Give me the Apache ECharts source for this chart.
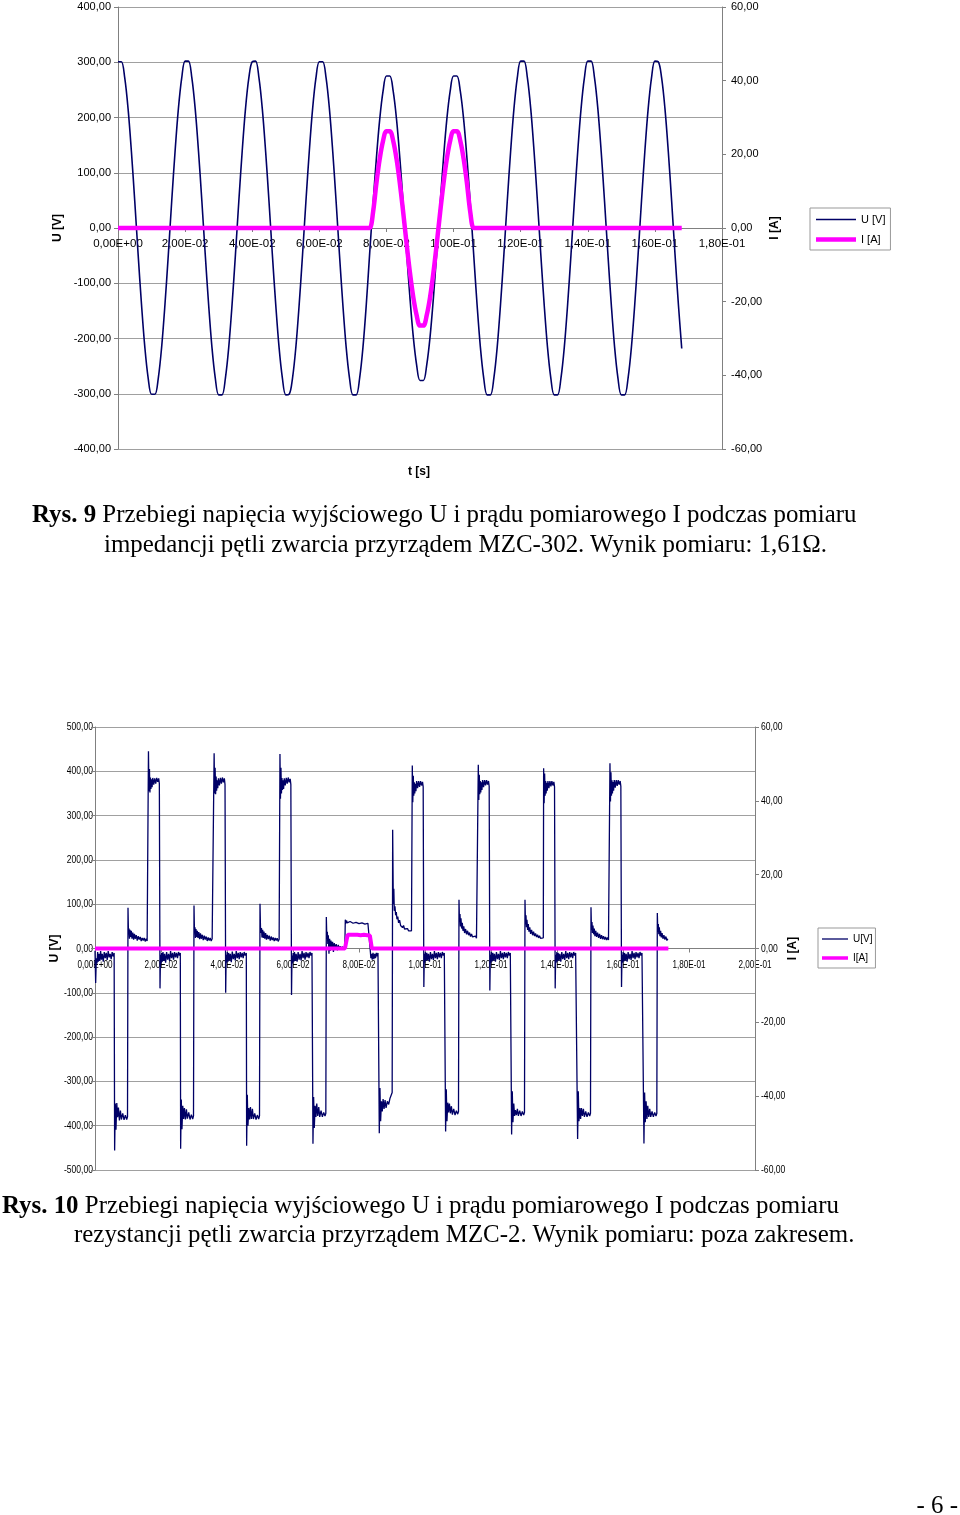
<!DOCTYPE html>
<html><head><meta charset="utf-8">
<script src="https://cdn.jsdelivr.net/npm/echarts/dist/echarts.min.js"></script>
<style>
html,body{margin:0;padding:0;background:#fff;}
#wrap{position:relative;width:960px;height:1515px;overflow:hidden;background:#fff;}
#chart{position:absolute;left:0;top:0;width:960px;height:1515px;}
.cap{position:absolute;font-family:'Liberation Serif','Times New Roman',serif;font-size:24.9px;color:#000;white-space:nowrap;line-height:30px;}
</style></head>
<body><div id="wrap"><div id="chart"></div>
<div class="cap" style="left:32px;top:499px;"><b>Rys. 9</b> Przebiegi napięcia wyjściowego U i prądu pomiarowego I podczas pomiaru</div>
<div class="cap" style="left:104px;top:529px;">impedancji pętli zwarcia przyrządem MZC-302. Wynik pomiaru: 1,61Ω.</div>
<div class="cap" style="left:2px;top:1190px;"><b>Rys. 10</b> Przebiegi napięcia wyjściowego U i prądu pomiarowego I podczas pomiaru</div>
<div class="cap" style="left:74px;top:1219px;">rezystancji pętli zwarcia przyrządem MZC-2. Wynik pomiaru: poza zakresem.</div>
<div class="cap" style="right:2px;top:1490px;">- 6 -</div>
</div>
<script>
// ---------- DATA ----------
// Fig. 9: samples every 1 ms (t = index * 1 ms)
const topStepMs = 1;
const topU = [
 301,301,272,216,138,48,-48,-138,-216,-272,-301,-301,-272,-216,-138,-48,48,138,216,272,
 302,302,272,216,138,48,-48,-138,-216,-272,-302,-302,-272,-216,-138,-48,48,138,216,272,
 301,302,272,216,138,48,-48,-138,-216,-272,-302,-301,-272,-216,-138,-48,48,138,216,272,
 301,301,272,216,138,48,-48,-138,-216,-272,-302,-302,-272,-216,-138,
 -46,43,126,197,248,
 275,275,248,197,126,43,-43,-126,-197,-248,-276,-276,-248,-197,-126,-43,43,126,197,248,
 275,275,248,197,126,43,
 -48,-138,-216,-272,-302,-302,-272,-216,-138,-48,48,138,216,272,
 302,302,272,216,138,48,-48,-138,-216,-272,-302,-302,-272,-216,-138,-48,48,138,216,272,
 302,302,272,216,138,48,-48,-138,-216,-272,-302,-302,-272,-216,-138,-48,48,138,216,272,
 302,301,272,216,138,48,-48,-138,-218
];
const topI = [
 0,0,0,0,0,0,0,0,0,0,0,0,0,0,0,0,0,0,0,0,
 0,0,0,0,0,0,0,0,0,0,0,0,0,0,0,0,0,0,0,0,
 0,0,0,0,0,0,0,0,0,0,0,0,0,0,0,0,0,0,0,0,
 0,0,0,0,0,0,0,0,0,0,0,0,0,0,0,0,
 4.2,12.1,18.8,23.7,26.3,26.3,23.7,18.8,12.1,4.2,
 -4.2,-12.1,-18.8,-23.7,-26.5,-26.5,-23.7,-18.8,-12.1,-4.2,
 4.2,12.1,18.8,23.7,26.3,26.3,23.7,18.8,12.1,4.2,
 0,0,0,0,0,0,0,0,0,0,0,0,0,0,0,0,0,0,0,0,
 0,0,0,0,0,0,0,0,0,0,0,0,0,0,0,0,0,0,0,0,
 0,0,0,0,0,0,0,0,0,0,0,0,0,0,0,0,0,0,0,0,
 0,0,0
];
// Fig. 10: [t in ms, U in V]
const botU = [
 [0,-5],[0.2,-78],[0.4,-22],[0.6,-34],[0.8,-8],[1.0,-30],[1.2,-12],[1.45,-28],[1.7,-6],[1.95,-25],[2.2,-12],[2.5,-30],[2.8,-8],[3.1,-22],[3.4,-10],[3.7,-26],[4.0,-6],[4.3,-20],[4.6,-12],[4.9,-24],[5.2,-8],[5.5,-18],[5.8,-10],
 [5.95,-456],[6.15,-350],[6.35,-409],[6.6,-349],[6.85,-381],[7.1,-359],[7.4,-388],[7.7,-366],[8.0,-386],[8.4,-372],[8.8,-387],[9.2,-376],[9.6,-386],[9.85,-380],
 [10.0,92],[10.15,32],[10.3,45],[10.45,22],[10.6,42],[10.8,26],[11.0,40],[11.2,22],[11.45,36],[11.7,20],[11.95,33],[12.2,22],[12.5,30],[12.8,18],[13.1,28],[13.4,20],[13.7,26],[14.0,17],[14.3,24],[14.6,18],[14.9,24],[15.2,16],[15.5,22],[15.8,17],[16.05,20],
 [16.2,445],[16.35,355],[16.5,405],[16.65,352],[16.8,386],[16.95,360],[17.1,382],[17.3,364],[17.5,385],[17.8,370],[18.1,384],[18.4,372],[18.7,385],[19.0,376],[19.3,384],[19.5,372],
 [19.7,-90],[19.85,-14],
 [20.0,-34],[20.2,-10],[20.4,-30],[20.6,-8],[20.85,-28],[21.1,-12],[21.4,-32],[21.7,-8],[22.0,-25],[22.3,-12],[22.6,-28],[22.9,-6],[23.2,-22],[23.5,-10],[23.8,-25],[24.1,-8],[24.4,-20],[24.7,-10],[25.0,-22],[25.3,-8],[25.6,-16],[25.85,-10],
 [25.95,-452],[26.15,-341],[26.35,-408],[26.6,-355],[26.85,-385],[27.1,-360],[27.4,-386],[27.7,-363],[28.0,-384],[28.4,-370],[28.8,-386],[29.2,-375],[29.6,-385],[29.85,-378],
 [30.0,97],[30.15,35],[30.3,48],[30.45,24],[30.6,44],[30.8,26],[31.0,40],[31.2,24],[31.45,37],[31.7,21],[31.95,34],[32.2,22],[32.5,31],[32.8,19],[33.1,29],[33.4,20],[33.7,27],[34.0,17],[34.3,25],[34.6,18],[34.9,24],[35.2,17],[35.5,22],[35.8,18],[36.0,21],
 [36.1,441],[36.25,350],[36.4,408],[36.55,348],[36.7,388],[36.85,356],[37.0,380],[37.2,362],[37.4,384],[37.7,368],[38.0,385],[38.3,372],[38.6,386],[38.9,375],[39.2,384],[39.4,370],
 [39.6,-100],[39.75,-14],
 [39.9,-32],[40.1,-8],[40.3,-30],[40.5,-10],[40.75,-27],[41.0,-12],[41.3,-31],[41.6,-7],[41.9,-24],[42.2,-12],[42.5,-27],[42.8,-6],[43.1,-22],[43.4,-10],[43.7,-24],[44.0,-8],[44.3,-20],[44.6,-10],[44.9,-22],[45.2,-8],[45.5,-16],[45.85,-10],
 [45.95,-445],[46.15,-330],[46.35,-400],[46.6,-360],[46.85,-386],[47.1,-358],[47.4,-385],[47.7,-362],[48.0,-385],[48.4,-372],[48.8,-386],[49.2,-376],[49.6,-385],[49.85,-378],
 [50.0,101],[50.15,48],[50.3,35],[50.45,46],[50.6,25],[50.8,42],[51.0,24],[51.2,38],[51.45,22],[51.7,35],[51.95,20],[52.2,31],[52.5,21],[52.8,29],[53.1,18],[53.4,27],[53.7,19],[54.0,25],[54.3,17],[54.6,24],[54.9,18],[55.2,23],[55.5,16],[55.8,21],[55.95,19],
 [56.05,439],[56.2,338],[56.35,408],[56.5,350],[56.65,385],[56.8,358],[56.95,380],[57.15,360],[57.35,384],[57.65,368],[57.95,385],[58.25,372],[58.55,386],[58.85,375],[59.15,383],[59.35,370],
 [59.55,-105],[59.7,-16],
 [59.85,-34],[60.05,-10],[60.25,-30],[60.45,-8],[60.7,-28],[60.95,-12],[61.25,-30],[61.55,-8],[61.85,-25],[62.15,-12],[62.45,-27],[62.75,-6],[63.05,-22],[63.35,-10],[63.65,-25],[63.95,-8],[64.25,-20],[64.55,-10],[64.85,-22],[65.15,-8],[65.45,-16],[65.75,-10],[65.95,-12],
 [66.05,-441],[66.25,-335],[66.45,-405],[66.7,-355],[66.95,-380],[67.2,-350],[67.5,-378],[67.8,-358],[68.1,-380],[68.5,-366],[68.9,-380],[69.3,-370],[69.7,-378],[69.95,-372],
 [70.1,71],[70.25,25],[70.4,38],[70.55,10],[70.7,30],[70.9,-12],[71.1,22],[71.3,-5],[71.5,18],[71.75,2],[72.0,15],[72.25,-8],[72.5,12],[72.8,0],[73.1,10],[73.4,-4],[73.7,8],[74.0,0],[74.3,5],[74.6,-2],[74.9,4],[75.2,0],[75.5,3],[75.7,1],
 [75.85,65],[76.0,56],[76.2,63],[76.45,58],[76.7,62],[77.0,58],[77.3,61],[77.6,57],[77.9,60],[78.2,57],[78.5,60],[78.8,57],[79.1,59],[79.4,56],[79.7,59],[80.0,56],[80.3,58],[80.6,56],[80.9,58],[81.2,55],[81.5,58],[81.8,55],[82.1,57],[82.4,55],[82.7,57],[83.0,55],[83.25,56],
 [83.45,-8],[83.6,-22],[83.8,-12],[84.0,-25],[84.25,-10],[84.5,-24],[84.75,-12],[85.0,-22],[85.25,-10],[85.5,-18],[85.75,-10],[86.0,-14],
 [86.15,-417],[86.35,-315],[86.55,-390],[86.8,-345],[87.05,-368],[87.3,-340],[87.6,-362],[87.9,-342],[88.2,-360],[88.6,-345],[89.0,-352],[89.4,-338],[89.8,-330],[90.05,-325],
 [90.2,268],[90.4,100],[90.55,135],[90.7,85],[90.9,95],[91.1,75],[91.3,82],[91.5,66],[91.75,72],[92.0,58],[92.3,64],[92.6,52],[92.9,56],[93.2,47],[93.5,52],[93.8,44],[94.1,48],[94.4,42],[94.7,45],[95.0,40],[95.3,43],[95.6,38],[95.9,40],[96.05,41],
 [96.15,413],[96.3,330],[96.45,390],[96.6,345],[96.75,375],[96.9,350],[97.05,372],[97.25,355],[97.45,378],[97.75,362],[98.05,378],[98.35,365],[98.65,378],[98.95,368],[99.25,376],[99.45,365],
 [99.65,-87],[99.8,-12],
 [99.95,-32],[100.15,-8],[100.35,-28],[100.55,-10],[100.8,-26],[101.05,-12],[101.35,-30],[101.65,-8],[101.95,-24],[102.25,-12],[102.55,-26],[102.85,-6],[103.15,-22],[103.45,-10],[103.75,-24],[104.05,-8],[104.35,-20],[104.65,-10],[104.95,-22],[105.25,-8],[105.55,-16],[105.85,-10],[106.1,-12],
 [106.25,-413],[106.45,-318],[106.65,-390],[106.9,-348],[107.15,-370],[107.4,-350],[107.7,-372],[108.0,-356],[108.3,-375],[108.7,-362],[109.1,-376],[109.5,-366],[109.9,-374],[110.15,-368],
 [110.3,110],[110.45,60],[110.6,78],[110.75,50],[110.9,68],[111.1,45],[111.3,58],[111.5,40],[111.75,50],[112.0,35],[112.3,44],[112.6,32],[112.9,40],[113.2,30],[113.5,36],[113.8,27],[114.1,33],[114.4,26],[114.7,30],[115.0,24],[115.3,28],[115.6,23],[115.9,26],[116.05,24],
 [116.15,415],[116.3,335],[116.45,392],[116.6,348],[116.75,378],[116.9,352],[117.05,375],[117.25,358],[117.45,380],[117.75,364],[118.05,380],[118.35,368],[118.65,380],[118.95,370],[119.25,378],[119.45,366],
 [119.65,-95],[119.8,-14],
 [119.95,-32],[120.15,-8],[120.35,-29],[120.55,-10],[120.8,-27],[121.05,-12],[121.35,-30],[121.65,-8],[121.95,-24],[122.25,-12],[122.55,-26],[122.85,-6],[123.15,-22],[123.45,-10],[123.75,-24],[124.05,-8],[124.35,-20],[124.65,-10],[124.95,-22],[125.25,-8],[125.55,-16],[125.85,-10],[126.1,-12],
 [126.25,-420],[126.45,-322],[126.65,-392],[126.9,-350],[127.15,-378],[127.4,-365],[127.7,-376],[128.0,-362],[128.3,-378],[128.7,-366],[129.1,-378],[129.5,-368],[129.9,-376],[130.15,-370],
 [130.3,110],[130.45,55],[130.6,75],[130.75,48],[130.9,65],[131.1,42],[131.3,55],[131.5,38],[131.75,48],[132.0,33],[132.3,42],[132.6,30],[132.9,38],[133.2,28],[133.5,34],[133.8,26],[134.1,31],[134.4,24],[134.7,29],[135.0,23],[135.3,27],[135.6,22],[135.85,24],
 [135.95,407],[136.1,328],[136.25,395],[136.4,345],[136.55,378],[136.7,350],[136.85,374],[137.05,356],[137.25,378],[137.55,362],[137.85,378],[138.15,366],[138.45,378],[138.75,368],[139.05,376],[139.25,365],
 [139.45,-90],[139.6,-14],
 [139.75,-32],[139.95,-8],[140.15,-29],[140.35,-10],[140.6,-27],[140.85,-12],[141.15,-30],[141.45,-8],[141.75,-24],[142.05,-12],[142.35,-26],[142.65,-6],[142.95,-22],[143.25,-10],[143.55,-24],[143.85,-8],[144.15,-20],[144.45,-10],[144.75,-22],[145.05,-8],[145.35,-16],[145.65,-10],[146.1,-12],
 [146.25,-430],[146.45,-322],[146.65,-390],[146.9,-360],[147.15,-385],[147.4,-360],[147.7,-378],[148.0,-362],[148.3,-380],[148.7,-368],[149.1,-380],[149.5,-370],[149.9,-378],[150.15,-372],
 [150.3,93],[150.45,42],[150.6,60],[150.75,35],[150.9,52],[151.1,32],[151.3,45],[151.5,28],[151.75,40],[152.0,26],[152.3,36],[152.6,24],[152.9,33],[153.2,22],[153.5,30],[153.8,21],[154.1,28],[154.4,20],[154.7,26],[155.0,19],[155.3,25],[155.6,19],[155.95,22],
 [156.05,418],[156.2,332],[156.35,398],[156.5,345],[156.65,380],[156.8,350],[156.95,376],[157.15,356],[157.35,380],[157.65,363],[157.95,380],[158.25,367],[158.55,380],[158.85,370],[159.15,378],[159.35,366],
 [159.55,-87],[159.7,-14],
 [159.85,-32],[160.05,-8],[160.25,-29],[160.45,-10],[160.7,-27],[160.95,-12],[161.25,-30],[161.55,-8],[161.85,-24],[162.15,-12],[162.45,-26],[162.75,-6],[163.05,-22],[163.35,-10],[163.65,-24],[163.95,-8],[164.25,-20],[164.55,-10],[164.85,-22],[165.15,-8],[165.45,-16],[165.75,-10],[166.15,-12],
 [166.35,-440],[166.55,-325],[166.75,-392],[167.0,-345],[167.25,-385],[167.5,-355],[167.8,-380],[168.1,-362],[168.4,-380],[168.8,-368],[169.2,-380],[169.6,-370],[170.0,-378],[170.25,-372],
 [170.4,80],[170.55,38],[170.7,55],[170.85,32],[171.0,48],[171.2,28],[171.4,40],[171.6,25],[171.85,35],[172.1,22],[172.4,30],[172.7,20],[173.0,27],[173.3,18],[173.6,22],[173.75,15]
];
// Fig. 10: [t in ms, I in A]
const botI = [
 [0,0],[75.75,0],[76.3,2.6],[76.6,3.7],[77.0,3.3],[77.5,3.7],[78.0,3.4],[78.5,3.7],[79.0,3.4],[79.5,3.7],[80.0,3.4],[80.5,3.6],[81.0,3.4],[81.5,3.7],[82.0,3.4],[82.5,3.6],[83.0,3.4],[83.3,3.5],[83.9,0],[173.75,0]
];
const topXTicks = {min: 0, max: 0.18, step: 0.02};
const botXTicks = {min: 0, max: 0.2, step: 0.02};
const topUTicks = {min: -400, max: 400, step: 100};
const botUTicks = {min: -500, max: 500, step: 100};
const iTicks = {min: -60, max: 60, step: 20};

// ---------- CHART ----------
const FONT = "'Liberation Sans', Arial, sans-serif";
const NAVY = '#000066', MAG = '#ff00ff', AX = '#808080', GRID = '#a0a0a0';
const G1 = {left:118, top:7, width:604, height:442};
const G2 = {left:95, top:727, width:660, height:443};

function num2(v){ return (Math.round(v*100)/100).toFixed(2).replace('.', ','); }
function sci(v){
  if (Math.abs(v) < 1e-9) return '0,00E+00';
  let e = Math.floor(Math.log10(Math.abs(v)) + 1e-9);
  let s = (v/Math.pow(10,e)).toFixed(2);
  if (parseFloat(s) >= 10) { e += 1; s = (v/Math.pow(10,e)).toFixed(2); }
  return s.replace('.', ',') + 'E' + (e < 0 ? '-' : '+') + String(Math.abs(e)).padStart(2,'0');
}
function tickList(t){ const out=[]; const n=Math.round((t.max-t.min)/t.step); for(let i=0;i<=n;i++) out.push(t.min+i*t.step); return out; }

const topUData = topU.map((v,i)=>[i*topStepMs/1000, v]);
const topIData = topI.map((v,i)=>[i*topStepMs/1000, v]);
const botUData = botU.map(p=>[p[0]/1000, p[1]]);
const botIData = botI.map(p=>[p[0]/1000, p[1]]);

function xAxisCfg(grid, ticks, g, showLabel){
  return {gridIndex:grid, type:'value', position:'bottom', offset:-g.height/2, min:ticks.min, max:ticks.max, interval:ticks.step,
    axisLine:{show:true, onZero:false, lineStyle:{color:AX, width:1}},
    axisTick:{show:true, length:4, lineStyle:{color:AX}},
    axisLabel:{show:showLabel, formatter:sci, color:'#000', fontFamily:FONT, fontSize:11.5, margin:10},
    splitLine:{show:false}};
}
function yAxisCfg(grid, ticks, pos, name, gap, margin, split, showLabel){
  return {gridIndex:grid, type:'value', position:pos, min:ticks.min, max:ticks.max, interval:ticks.step,
    name:name, nameLocation:'middle', nameGap:gap, nameRotate:90, nameMoveOverlap:false,
    nameTextStyle:{fontWeight:'bold', fontSize:12, fontFamily:FONT, color:'#000'},
    axisLine:{show:true, onZero:false, lineStyle:{color:AX, width:1}},
    axisTick:{show:true, length:4, lineStyle:{color:AX}},
    axisLabel:{show:showLabel, formatter:num2, color:'#000', fontFamily:FONT, fontSize:11, margin:margin},
    splitLine:{show:split, lineStyle:{color:GRID, width:1}}};
}

const chart = echarts.init(document.getElementById('chart'), null, {renderer:'canvas'});
chart.setOption({
  animation:false,
  backgroundColor:'#fff',
  grid:[G1, G2],
  xAxis:[xAxisCfg(0, topXTicks, G1, true), xAxisCfg(1, botXTicks, G2, false)],
  yAxis:[
    yAxisCfg(0, topUTicks, 'left', 'U [V]', 54, 7, true, true),
    yAxisCfg(0, iTicks, 'right', 'I [A]', 47, 9, false, true),
    yAxisCfg(1, botUTicks, 'left', 'U [V]', 34, 2, true, false),
    yAxisCfg(1, iTicks, 'right', 'I [A]', 32, 6, false, false)
  ],
  legend:[
    {data:[{name:'U [V]', icon:'path://M0,0 L40,0 L40,1.6 L0,1.6 Z'}, {name:'I [A]', icon:'path://M0,0 L40,0 L40,4.5 L0,4.5 Z'}],
     left:810, top:208, orient:'vertical', itemWidth:40, itemHeight:10, itemGap:9, padding:[6,5,5,6],
     borderColor:'#999', borderWidth:1, backgroundColor:'#fff', selectedMode:false,
     textStyle:{fontFamily:FONT, fontSize:11, color:'#000'}},
    {data:[{name:'U[V]', icon:'path://M0,0 L26,0 L26,1.3 L0,1.3 Z'}, {name:'I[A]', icon:'path://M0,0 L26,0 L26,3.5 L0,3.5 Z'}],
     left:818, top:928, orient:'vertical', itemWidth:26, itemHeight:10, itemGap:9, padding:[6,3,5,4],
     borderColor:'#999', borderWidth:1, backgroundColor:'#fff', selectedMode:false,
     textStyle:{fontFamily:FONT, fontSize:10, color:'#000'}}
  ],
  series:[
    {name:'U [V]', type:'line', xAxisIndex:0, yAxisIndex:0, data:topUData, symbol:'none', showSymbol:false, smooth:0.35,
     lineStyle:{color:NAVY, width:1.6}, itemStyle:{color:NAVY}, z:2},
    {name:'I [A]', type:'line', xAxisIndex:0, yAxisIndex:1, data:topIData, symbol:'none', showSymbol:false, smooth:0.35,
     lineStyle:{color:MAG, width:4.5}, itemStyle:{color:MAG}, z:3},
    {name:'U[V]', type:'line', xAxisIndex:1, yAxisIndex:2, data:botUData, symbol:'none', showSymbol:false,
     lineStyle:{color:NAVY, width:1.3}, itemStyle:{color:NAVY}, z:2},
    {name:'I[A]', type:'line', xAxisIndex:1, yAxisIndex:3, data:botIData, symbol:'none', showSymbol:false,
     lineStyle:{color:MAG, width:4}, itemStyle:{color:MAG}, z:3}
  ]
});

// Condensed tick labels of Fig. 10, placed through the chart's own scales
const gfx = [{type:'text', left:408, top:466, z:1, style:{text:'t [s]', font:"bold 12px 'Liberation Sans', Arial, sans-serif", fill:'#000'}}];
const zeroY = chart.convertToPixel({yAxisIndex:2}, 0);
tickList(botUTicks).forEach(v=>{
  gfx.push({type:'text', x:G2.left-2, y:chart.convertToPixel({yAxisIndex:2}, v), scaleX:0.78, z:0,
    style:{text:num2(v), align:'right', verticalAlign:'middle', font:"11px 'Liberation Sans', Arial, sans-serif", fill:'#000'}});
});
tickList(iTicks).forEach(v=>{
  gfx.push({type:'text', x:G2.left+G2.width+6, y:chart.convertToPixel({yAxisIndex:3}, v), scaleX:0.78, z:0,
    style:{text:num2(v), align:'left', verticalAlign:'middle', font:"11px 'Liberation Sans', Arial, sans-serif", fill:'#000'}});
});
tickList(botXTicks).forEach(v=>{
  gfx.push({type:'text', x:chart.convertToPixel({xAxisIndex:1}, v), y:zeroY+11, scaleX:0.74, z:0,
    style:{text:sci(v), align:'center', verticalAlign:'top', font:"11px 'Liberation Sans', Arial, sans-serif", fill:'#000'}});
});
chart.setOption({graphic:gfx});
</script>
</body></html>
